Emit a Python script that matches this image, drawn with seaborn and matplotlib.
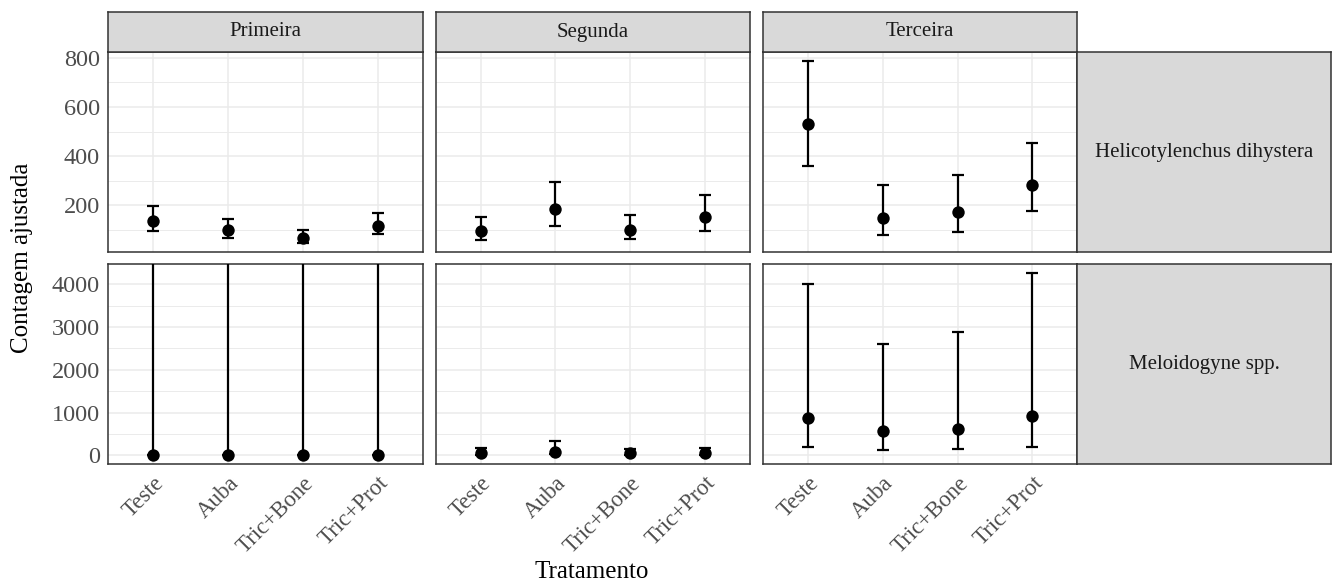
import numpy as np
import pandas as pd
import matplotlib
matplotlib.use("Agg")
import matplotlib.pyplot as plt
import seaborn as sns

# dados
tratamentos = ["Teste", "Auba", "Tric+Bone", "Tric+Prot"]
epocas = ["Primeira", "Segunda", "Terceira"]
especies = ["Helicotylenchus dihystera", "Meloidogyne spp."]

# Helicotylenchus dihystera (uma lista por epoca)
heli_media = [[137, 100, 68, 116], [94, 184, 99, 151], [531, 150, 173, 283]]
heli_inf = [[96, 69, 46, 83], [60, 116, 63, 96], [362, 80, 92, 177]]
heli_sup = [[197, 146, 100, 168], [154, 294, 162, 244], [787, 282, 322, 452]]

# Meloidogyne spp. (limite superior infinito na primeira epoca)
melo_media = [[8, 8, 8, 8], [47, 78, 47, 47], [862, 559, 613, 917]]
melo_inf = [[2, 2, 2, 2], [15, 25, 15, 15], [194, 124, 140, 202]]
melo_sup = [[np.inf] * 4, [160, 326, 155, 178], [4017, 2603, 2875, 4265]]

rows = []
for esp, med, li, ls in [(especies[0], heli_media, heli_inf, heli_sup),
                         (especies[1], melo_media, melo_inf, melo_sup)]:
    for j, ep in enumerate(epocas):
        for k, tr in enumerate(tratamentos):
            rows.append(dict(especie=esp, epoca=ep, tratamento=tr,
                             media=med[j][k], inf=li[j][k], sup=ls[j][k]))
df = pd.DataFrame(rows)

sns.set_style("white")
plt.rcParams["font.family"] = ["Liberation Serif", "DejaVu Serif"]

W, H = 1332, 586
fig = plt.figure(figsize=(W / 100, H / 100), dpi=100)


def box(x0, y0, x1, y1):
    return [x0 / W, 1 - y1 / H, (x1 - x0) / W, (y1 - y0) / H]


col_x = [108.3, 435.7, 763.0]
pw = 314.3
row_y = [52.0, 264.0]
ph = 200.3
borda = "#333333"
cinza_strip = "#D9D9D9"


def strip(rect, texto, rot=0):
    a = fig.add_axes(rect)
    a.set_facecolor(cinza_strip)
    a.set_xticks([])
    a.set_yticks([])
    for s in a.spines.values():
        s.set_color(borda)
        s.set_linewidth(1.1)
    a.text(0.5, 0.5, texto, ha="center", va="center", fontsize=15,
           color="#1A1A1A", rotation=rot, transform=a.transAxes)
    return a


for i, esp in enumerate(especies):
    sub_esp = df[df.especie == esp]
    fin = np.concatenate([sub_esp.inf.values, sub_esp.sup.values])
    fin = fin[np.isfinite(fin)]
    lo, hi = fin.min(), fin.max()
    pad = 0.05 * (hi - lo)
    ylim = (lo - pad, hi + pad)
    if i == 0:
        major = [200, 400, 600, 800]
        minor = [100, 300, 500, 700]
    else:
        major = [0, 1000, 2000, 3000, 4000]
        minor = [500, 1500, 2500, 3500]

    for j, ep in enumerate(epocas):
        ax = fig.add_axes(box(col_x[j], row_y[i], col_x[j] + pw, row_y[i] + ph))
        d = sub_esp[sub_esp.epoca == ep]
        sup = np.where(np.isinf(d.sup.values), ylim[1] + 1000, d.sup.values)
        ax.errorbar(d.tratamento, d.media,
                    yerr=[d.media.values - d.inf.values, sup - d.media.values],
                    fmt="none", ecolor="black", elinewidth=1.6,
                    capsize=4.3, capthick=1.6, zorder=3)
        sns.scatterplot(data=d, x="tratamento", y="media", ax=ax,
                        color="black", s=80, linewidth=0, zorder=4)
        ax.set_xlim(-0.6, 3.6)
        ax.set_ylim(*ylim)
        ax.set_yticks(major)
        ax.set_yticks(minor, minor=True)
        ax.grid(True, which="major", color="#EBEBEB", linewidth=1.1, zorder=0)
        ax.grid(True, which="minor", axis="y", color="#EBEBEB", linewidth=0.7, zorder=0)
        ax.set_axisbelow(True)
        for s in ax.spines.values():
            s.set_color(borda)
            s.set_linewidth(1.1)
        ax.set_xlabel("")
        ax.set_ylabel("")
        ax.tick_params(which="minor", length=0)
        ax.tick_params(axis="both", colors=borda, length=4, width=1.0,
                       labelcolor="#4D4D4D")
        if j == 0:
            ax.tick_params(axis="y", labelsize=17.5, pad=2)
        else:
            ax.tick_params(axis="y", left=False, labelleft=False)
        if i == 1:
            ax.tick_params(axis="x", labelsize=16.5, pad=2)
            for lb in ax.get_xticklabels():
                lb.set_rotation(45)
                lb.set_ha("right")
                lb.set_va("top")
                lb.set_rotation_mode("anchor")
        else:
            ax.tick_params(axis="x", bottom=False, labelbottom=False)

        if i == 0:
            strip(box(col_x[j], 12, col_x[j] + pw, row_y[0]), ep)

    strip(box(col_x[2] + pw, row_y[i], 1331, row_y[i] + ph), esp)

fig.text(22 / W, 1 - 258 / H, "Contagem ajustada", rotation=90,
         ha="center", va="center", fontsize=18, color="black")
fig.text(592 / W, 1 - 572 / H, "Tratamento", ha="center", va="center",
         fontsize=18, color="black")

fig.savefig("out.png", dpi=100)
